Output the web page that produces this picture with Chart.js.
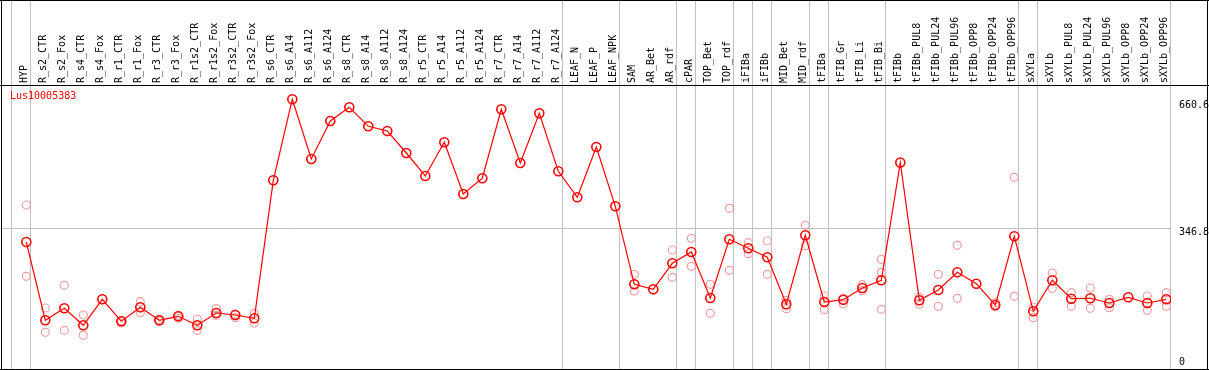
<!DOCTYPE html>
<html>
<head>
<meta charset="utf-8">
<script src="https://cdn.jsdelivr.net/npm/chart.js@4/dist/chart.umd.min.js"></script>
<style>
  html, body { margin: 0; padding: 0; background: #fff; }
  #wrap { width: 1209px; height: 370px; }
</style>
</head>
<body>
<div id="wrap"><canvas id="chart" width="1209" height="370"></canvas></div>
<script>
const seriesName = 'Lus10005383';

const categories = [
  'HYP', 'R_s2_CTR', 'R_s2_Fox', 'R_s4_CTR', 'R_s4_Fox', 'R_r1_CTR', 'R_r1_Fox',
  'R_r3_CTR', 'R_r3_Fox', 'R_r1s2_CTR', 'R_r1s2_Fox', 'R_r3s2_CTR', 'R_r3s2_Fox',
  'R_s6_CTR', 'R_s6_A14', 'R_s6_A112', 'R_s6_A124', 'R_s8_CTR', 'R_s8_A14',
  'R_s8_A112', 'R_s8_A124', 'R_r5_CTR', 'R_r5_A14', 'R_r5_A112', 'R_r5_A124',
  'R_r7_CTR', 'R_r7_A14', 'R_r7_A112', 'R_r7_A124', 'LEAF_N', 'LEAF_P', 'LEAF_NPK',
  'SAM', 'AR_Bet', 'AR_rdf', 'cPAR', 'TOP_Bet', 'TOP_rdf', 'iFIBa', 'iFIBb',
  'MID_Bet', 'MID_rdf', 'tFIBa', 'tFIB_Gr', 'tFIB_Li', 'tFIB_Bi', 'tFIBb',
  'tFIBb_PUL8', 'tFIBb_PUL24', 'tFIBb_PUL96', 'tFIBb_OPP8', 'tFIBb_OPP24', 'tFIBb_OPP96',
  'sXYLa', 'sXYLb', 'sXYLb_PUL8', 'sXYLb_PUL24', 'sXYLb_PUL96', 'sXYLb_OPP8',
  'sXYLb_OPP24', 'sXYLb_OPP96'
];

// mean expression per sample
const means = [
  313, 120, 149.6, 107.7, 171.8, 117.6, 152.1, 120, 129.9, 107.7, 138, 133.1, 125,
  465.1, 665, 517.6, 611.3, 645.1, 598.2, 586.6, 532.4, 475.7, 558.8, 431.4, 470.1,
  640.1, 507.8, 630.3, 487.3, 423.2, 547.2, 401,
  208.8, 196.5, 260.5, 288.4, 175, 319.7, 297.5, 275.3, 159.5, 329.6,
  165.1, 170.8, 199.7, 218.6, 509,
  169.3, 194.7, 238.4, 210.3, 157.8, 327.1,
  142.2, 218.6, 173.3, 174.3, 162.7, 176.7, 162.7, 171.8
];

// individual replicates (null = hidden behind the mean)
const rep1 = [
  404.2, 150.4, 206.3, 133.1, null, 118.3, 165.9, 122.5, 132.4, 123.2, 148.6, 135.6, 137.3,
  null, null, null, null, null, null, null, null, null, null, null, null,
  null, null, null, null, null, null, null,
  233.4, null, 293.3, 322.2, 208.8, 396.1, 311.3, 315.5, 169.3, 354.2,
  179.9, 175, 207.8, 270.4, null,
  176.7, 233.4, 304.9, null, 163.4, 472.5,
  152.8, 236.6, 188.1, 199.7, 171.8, null, 179.9, 188.1
];
const rep2 = [
  228.5, 90.5, 95.4, 83.1, null, 113.4, 138.8, 117.6, 125, 95.4, 132.4, 126.5, 113.4,
  null, null, null, null, null, null, null, null, null, null, null, null,
  null, null, null, null, null, null, null,
  192.3, null, 226, 253.1, 137.3, 243.3, 284.2, 233.4, 148.6, 303.9,
  146.2, 160.2, 193, 238.4, null,
  159.5, 154.5, 174.3, null, 153.6, 179.2,
  126.5, 198.9, 154.5, 149.6, 151.1, null, 144.7, 154.5
];
const rep3 = [
  null, null, null, null, null, null, null, null, null, null, null, null, null,
  null, null, null, null, null, null, null, null, null, null, null, null,
  null, null, null, null, null, null, null,
  null, null, null, null, null, null, null, null, null, null,
  null, null, null, 147.2, null,
  null, null, null, null, null, null,
  null, null, null, null, null, null, null, null
];

// a grey separator follows each of these sample indexes
const groupEnds = [-1, 0, 28, 31, 34, 35, 37, 38, 39, 41, 42, 45, 52, 53, 60];

const yTicks = [0, 346.8, 660.6];
const yGridValues = [346.8];
const yMax = 700;

const SEP = 0.232;
const GRID = '#c0c0c0';
const CLEAR = 'rgba(0,0,0,0)';
const FONT = { family: '"DejaVu Sans Mono", monospace', size: 10, lineHeight: 1.2 };

const toPoints = arr => arr.map((v, i) => ({ x: i, y: v }));
const isGroupEnd = ctx => ctx.tick && groupEnds.includes(Math.round(ctx.tick.value - SEP));

const framePlugin = {
  id: 'frame',
  afterDraw(chart) {
    const ctx = chart.ctx;
    const area = chart.chartArea;
    const ys = chart.scales.y;
    ctx.save();
    ctx.fillStyle = '#000';
    ctx.fillRect(0, 0, 1209, 1);
    ctx.fillRect(1, 0, 1, 370);
    ctx.fillRect(1207, 0, 1, 370);
    ctx.fillRect(0, 369, 1209, 1);
    ctx.fillRect(0, 85, 1209, 1);

    ctx.font = '10px "DejaVu Sans Mono", monospace';
    ctx.textBaseline = 'top';
    yTicks.forEach(v => {
      let py = ys.getPixelForValue(v) - 1;
      py = Math.min(py, area.bottom - 12);
      ctx.fillText(String(v), ys.left + 8, py);
    });

    ctx.fillStyle = '#ff0000';
    ctx.fillText(seriesName, 10, 91);
    ctx.restore();
  }
};

new Chart(document.getElementById('chart'), {
  type: 'line',
  data: {
    datasets: [
      {
        label: seriesName,
        data: toPoints(means),
        borderColor: '#ff0000',
        borderWidth: 1.2,
        pointRadius: 4.5,
        pointBorderWidth: 1.6,
        pointBorderColor: '#ff0000',
        pointBackgroundColor: CLEAR,
        tension: 0
      },
      {
        label: 'rep1',
        data: toPoints(rep1),
        showLine: false,
        pointRadius: 4,
        pointBorderWidth: 1.2,
        pointBorderColor: '#eea0a0',
        pointBackgroundColor: CLEAR
      },
      {
        label: 'rep2',
        data: toPoints(rep2),
        showLine: false,
        pointRadius: 4,
        pointBorderWidth: 1.2,
        pointBorderColor: '#eea0a0',
        pointBackgroundColor: CLEAR
      },
      {
        label: 'rep3',
        data: toPoints(rep3),
        showLine: false,
        pointRadius: 4,
        pointBorderWidth: 1.2,
        pointBorderColor: '#eea0a0',
        pointBackgroundColor: CLEAR
      }
    ]
  },
  options: {
    responsive: false,
    animation: false,
    layout: { autoPadding: false, padding: { left: 2, right: 0, top: 0, bottom: 1 } },
    plugins: {
      legend: { display: false },
      tooltip: { enabled: false }
    },
    scales: {
      x: {
        type: 'linear',
        position: 'top',
        min: -1.279,
        max: 60.247,
        afterBuildTicks: scale => {
          const ticks = [];
          for (let i = -1; i < categories.length; i++) ticks.push({ value: i + SEP });
          scale.ticks = ticks;
        },
        afterFit: scale => {
          scale.height = 85;
          scale.paddingLeft = 0;
          scale.paddingRight = 0;
        },
        grid: {
          color: ctx => isGroupEnd(ctx) ? GRID : CLEAR,
          tickColor: ctx => isGroupEnd(ctx) ? GRID : CLEAR,
          tickLength: 85,
          lineWidth: 1
        },
        border: { display: false },
        ticks: {
          autoSkip: false,
          minRotation: 90,
          maxRotation: 90,
          padding: -83,
          labelOffset: 6,
          color: '#000',
          font: FONT,
          callback: value => categories[Math.round(value - SEP)] || ''
        }
      },
      y: {
        type: 'linear',
        position: 'right',
        min: 0,
        max: yMax,
        afterBuildTicks: scale => { scale.ticks = yTicks.map(v => ({ value: v })); },
        afterFit: scale => {
          scale.width = 38;
          scale.paddingTop = 0;
          scale.paddingBottom = 0;
        },
        grid: {
          color: ctx => (ctx.tick && yGridValues.includes(ctx.tick.value)) ? GRID : CLEAR,
          drawTicks: false
        },
        border: { display: false },
        ticks: { display: false }
      }
    }
  },
  plugins: [framePlugin]
});
</script>
</body>
</html>
